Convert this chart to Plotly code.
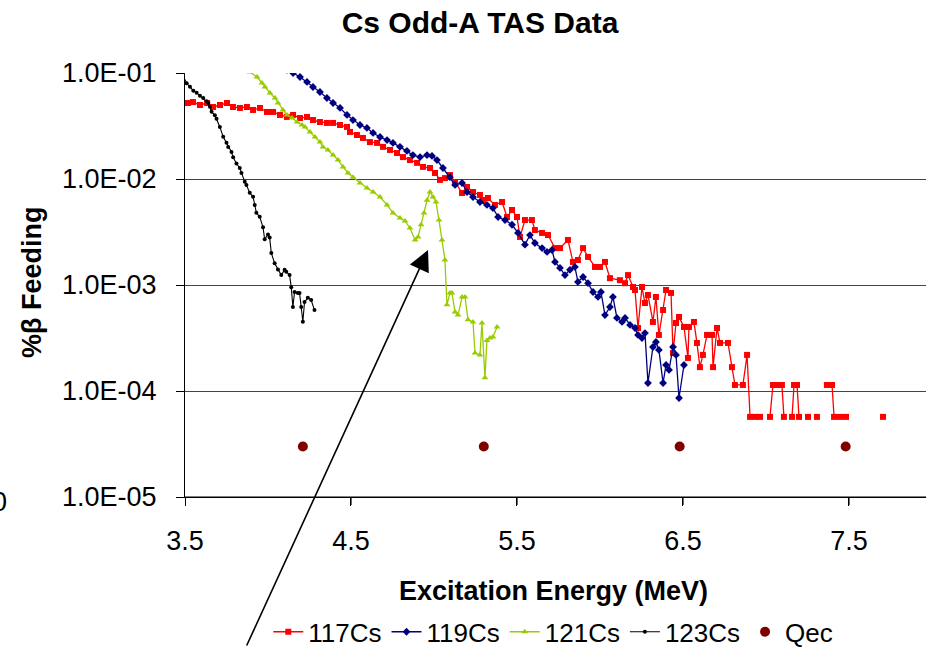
import plotly.graph_objects as go

# ---------------- data ----------------
E_117 = [3.482,3.518,3.548,3.590,3.633,3.669,3.711,3.753,3.789,3.831,3.873,3.910,3.952,3.994,4.030,4.072,4.114,4.151,4.193,4.235,
         4.271,4.313,4.355,4.392,4.434,4.476,4.494,4.536,4.572,4.614,4.657,4.693,4.735,4.777,4.813,4.855,4.898,4.934,4.976,5.006,
         5.036,5.066,5.096,5.127,5.169,5.199,5.235,5.277,5.295,5.325,5.367,5.410,5.440,5.470,5.500,5.518,5.548,5.590,5.608,5.651,
         5.687,5.729,5.759,5.807,5.837,5.867,5.898,5.928,5.970,6.000,6.030,6.060,6.120,6.151,6.169,6.199,6.211,6.229,6.253,6.271,
         6.289,6.319,6.337,6.355,6.380,6.398,6.428,6.440,6.458,6.476,6.506,6.530,6.536,6.566,6.584,6.602,6.620,6.645,6.675,6.681,
         6.705,6.723,6.771,6.795,6.813,6.861,6.886,6.904,6.934,6.964,6.994,7.024,7.042,7.072,7.096,7.108,7.130,7.157,7.169,7.187,
         7.199,7.226,7.253,7.280,7.307,7.337,7.367,7.398,7.410,7.446,7.482,7.600,7.705]
F_117 = [0.0499,0.0521,0.0532,0.0499,0.0521,0.0478,0.0499,0.0521,0.0478,0.0468,0.0478,0.0448,0.0468,0.0429,0.0429,0.0402,0.0385,0.0402,0.0376,0.0385,
         0.0360,0.0345,0.0338,0.0338,0.0323,0.0310,0.0278,0.0260,0.0244,0.0223,0.0219,0.0201,0.0188,0.0176,0.0161,0.0151,0.0142,0.0130,0.0127,0.0114,
         0.0098,0.0102,0.0109,0.00938,0.00738,0.00841,0.00754,0.00707,0.00634,0.00662,0.00569,0.00607,0.00438,0.00510,0.00438,0.00284,0.00410,0.00410,0.00330,0.00310,
         0.00296,0.00223,0.00223,0.00266,0.00165,0.00172,0.00223,0.00184,0.00148,0.00148,0.00165,0.00116,0.00111,0.00104,0.00124,0.000957,0.000897,0.000393,0.000957,0.000676,
         0.000805,0.000448,0.000771,0.000338,0.000581,0.000897,0.000841,0.000228,0.000438,0.000499,0.000402,0.000205,0.000402,0.000448,0.000284,0.000168,0.000219,0.000338,0.000338,0.000168,
         0.000393,0.000284,0.000284,0.000168,0.000114,0.000114,0.000219,5.7e-5,5.7e-5,5.7e-5,None,5.7e-5,0.000114,0.000114,0.000114,5.7e-5,None,5.7e-5,0.000114,0.000114,
         5.7e-5,None,5.7e-5,None,5.7e-5,None,0.000114,0.000114,5.7e-5,5.7e-5,5.7e-5,None,5.7e-5]

E_119 = [4.072,4.114,4.151,4.193,4.235,4.271,4.313,4.355,4.392,4.434,4.476,4.512,4.554,4.596,4.633,4.675,4.717,4.753,4.795,4.837,
         4.873,4.916,4.958,4.988,5.018,5.054,5.096,5.127,5.169,5.199,5.235,5.277,5.319,5.355,5.386,5.428,5.470,5.506,5.548,5.578,
         5.608,5.651,5.681,5.711,5.729,5.759,5.789,5.819,5.849,5.867,5.898,5.928,5.958,5.988,6.006,6.030,6.060,6.078,6.102,6.133,
         6.151,6.181,6.211,6.229,6.253,6.271,6.289,6.319,6.337,6.355,6.380,6.398,6.416,6.440,6.458,6.476,6.506]
F_119 = [0.114,0.107,0.100,0.0917,0.0823,0.0738,0.0662,0.0581,0.0521,0.0468,0.0402,0.0360,0.0323,0.0303,0.0272,0.0249,0.0233,0.0219,0.0201,0.0184,
         0.0168,0.0161,0.0168,0.0165,0.0151,0.0127,0.0104,0.0088,0.00917,0.00754,0.00676,0.00607,0.00569,0.00532,0.00438,0.00410,0.00370,0.00310,0.00240,0.00296,
         0.00249,0.00223,0.00205,0.00214,0.00165,0.00145,0.00124,0.00139,0.00148,0.00107,0.00119,0.00104,0.000859,0.000771,0.000859,0.00052,0.00062,0.000771,0.000489,0.000448,
         0.000489,0.00042,0.000393,0.000338,0.000316,0.000352,0.000119,0.00026,0.00029,0.000244,0.000119,0.000176,0.000158,0.000260,0.000219,0.0000859,0.000176]

E_121 = [3.831,3.873,3.892,3.934,3.964,3.982,4.012,4.042,4.060,4.090,4.114,4.145,4.175,4.205,4.223,4.253,4.283,4.313,4.331,4.361,
         4.392,4.422,4.452,4.482,4.512,4.554,4.596,4.633,4.675,4.717,4.753,4.795,4.825,4.855,4.886,4.904,4.922,4.940,4.958,4.976,
         4.994,5.012,5.030,5.048,5.066,5.078,5.096,5.108,5.127,5.145,5.169,5.187,5.205,5.235,5.247,5.277,5.289,5.307,5.319,5.337,
         5.355,5.380]
F_121 = [0.114,0.112,0.102,0.0917,0.0805,0.0738,0.0648,0.0581,0.0521,0.0448,0.0401,0.0376,0.0345,0.0323,0.0310,0.0278,0.0249,0.0223,0.0200,0.0188,
         0.0168,0.0151,0.0130,0.0114,0.0104,0.00917,0.00822,0.00754,0.00676,0.00570,0.00478,0.00429,0.00402,0.00345,0.00266,0.00284,0.00370,0.00478,0.00630,0.00754,
         0.00676,0.00607,0.00410,0.00266,0.00172,0.00065,0.00084,0.00084,0.000556,0.00052,0.00077,0.00077,0.00047,0.000448,0.000228,0.000219,0.000438,0.000133,0.00030,0.000316,
         0.000323,0.000402]

E_123 = [3.48,3.51,3.53,3.55,3.57,3.59,3.61,3.63,3.64,3.65,3.66,3.68,3.69,3.71,3.73,3.75,3.76,3.78,3.79,3.81,
         3.83,3.84,3.86,3.87,3.89,3.91,3.92,3.93,3.95,3.97,3.98,4.00,4.01,4.02,4.04,4.06,4.08,4.10,4.11,4.13,
         4.14,4.15,4.16,4.18,4.19,4.20,4.21,4.22,4.24,4.26,4.28]
F_123 = [1.0e-1,8.0e-2,7.4e-2,6.8e-2,6.5e-2,6.1e-2,5.8e-2,5.4e-2,5.2e-2,4.8e-2,4.3e-2,4.0e-2,3.7e-2,3.1e-2,2.5e-2,2.2e-2,2.0e-2,1.8e-2,1.6e-2,1.4e-2,
         1.27e-2,1.14e-2,9.4e-3,8.8e-3,7.4e-3,6.8e-3,5.7e-3,4.8e-3,4.4e-3,3.5e-3,2.7e-3,3.0e-3,2.8e-3,2.0e-3,1.6e-3,1.4e-3,1.24e-3,1.39e-3,1.33e-3,1.24e-3,
         9.5e-4,6.2e-4,8.6e-4,8.4e-4,8.4e-4,6.2e-4,4.5e-4,6.9e-4,7.6e-4,7.2e-4,5.8e-4]

E_qec = [4.21, 5.30, 6.48, 7.48]
F_qec = [3.0e-5, 3.0e-5, 3.0e-5, 3.0e-5]

x_ticks = [3.5, 4.5, 5.5, 6.5, 7.5]
x_tick_text = ["3.5", "4.5", "5.5", "6.5", "7.5"]
y_ticks = [1e-5, 1e-4, 1e-3, 1e-2, 1e-1]
y_tick_text = ["1.0E-05", "1.0E-04", "1.0E-03", "1.0E-02", "1.0E-01"]

for a, b in [(E_117, F_117), (E_119, F_119), (E_121, F_121), (E_123, F_123)]:
    assert len(a) == len(b), (len(a), len(b))

FONT = "Liberation Sans, Arial, sans-serif"

fig = go.Figure()
fig.add_trace(go.Scatter(x=E_117, y=F_117, name="117Cs", mode="lines+markers",
                         line=dict(color="#FF0000", width=1.3),
                         marker=dict(symbol="square", size=6, color="#FF0000")))
fig.add_trace(go.Scatter(x=E_119, y=F_119, name="119Cs", mode="lines+markers",
                         line=dict(color="#000080", width=1.3),
                         marker=dict(symbol="diamond", size=6, color="#000080")))
fig.add_trace(go.Scatter(x=E_121, y=F_121, name="121Cs", mode="lines+markers",
                         line=dict(color="#99CC00", width=1.3),
                         marker=dict(symbol="triangle-up", size=6, color="#99CC00")))
fig.add_trace(go.Scatter(x=E_123, y=F_123, name="123Cs", mode="lines+markers",
                         line=dict(color="#000000", width=1.1),
                         marker=dict(symbol="circle", size=4, color="#000000")))
fig.add_trace(go.Scatter(x=E_qec, y=F_qec, name="Qec", mode="markers",
                         marker=dict(symbol="circle", size=10, color="#800000")))

fig.update_layout(
    width=926, height=647,
    margin=dict(l=185, r=0, t=73, b=150, autoexpand=False),
    paper_bgcolor="white", plot_bgcolor="white",
    font=dict(family=FONT, color="black", size=27),
    showlegend=True,
    title=dict(text="<b>Cs Odd-A TAS Data</b>", x=480/926, xanchor="center",
               y=1-22/647, yanchor="middle", font=dict(size=30, family=FONT)),
    legend=dict(orientation="h", x=0.497, xanchor="center", y=-0.318, yanchor="middle",
                font=dict(size=26, family=FONT), bgcolor="rgba(0,0,0,0)",
                itemwidth=30, traceorder="normal"),
    xaxis=dict(range=[3.5, 7.964], tickvals=x_ticks, ticktext=x_tick_text,
               showgrid=False, zeroline=False, showline=True, linecolor="black", linewidth=1.2,
               ticks="outside", ticklen=8, tickcolor="black", tickwidth=1.2,
               tickfont=dict(size=27), ticklabelstandoff=11),
    yaxis=dict(type="log", range=[-5, -1], tickvals=y_ticks, ticktext=y_tick_text,
               showgrid=True, gridcolor="#444444", gridwidth=1.2, zeroline=False,
               showline=True, linecolor="black", linewidth=1.2,
               ticks="outside", ticklen=8, tickcolor="black", tickwidth=1.2,
               tickfont=dict(size=27), ticklabelstandoff=14),
)

# explicit bottom axis line and tick marks (drawn through the x scale)
fig.add_shape(type="line", xref="paper", yref="paper", x0=0, x1=1, y0=0, y1=0,
              line=dict(color="black", width=1.2), layer="above")
for xv in x_ticks:
    fig.add_shape(type="line", xref="x", yref="paper", x0=xv, x1=xv, y0=0, y1=-8/424,
                  line=dict(color="black", width=1.2), layer="above")

fig.add_annotation(text="<b>Excitation Energy (MeV)</b>", xref="paper", yref="paper",
                   x=(553-185)/741, y=(497-591)/424, xanchor="center", yanchor="middle",
                   showarrow=False, font=dict(size=27, family=FONT))
fig.add_annotation(text="<b>%β Feeding</b>", xref="paper", yref="paper",
                   x=(32-185)/741, y=(497-282)/424, xanchor="center", yanchor="middle",
                   textangle=-90, showarrow=False, font=dict(size=27, family=FONT))
fig.add_annotation(text="0", xref="paper", yref="paper",
                   x=(9-185)/741, y=(497-502)/424, xanchor="right", yanchor="middle",
                   showarrow=False, font=dict(size=27, family=FONT))
# arrow pointing at the 121Cs bump
fig.add_annotation(text="", x=4.964, y=-2.67, xref="x", yref="y",
                   ax=-182, ay=402, showarrow=True, arrowhead=2, arrowsize=2.6,
                   arrowwidth=1.6, arrowcolor="black", standoff=0)

fig.write_html("out.html")
